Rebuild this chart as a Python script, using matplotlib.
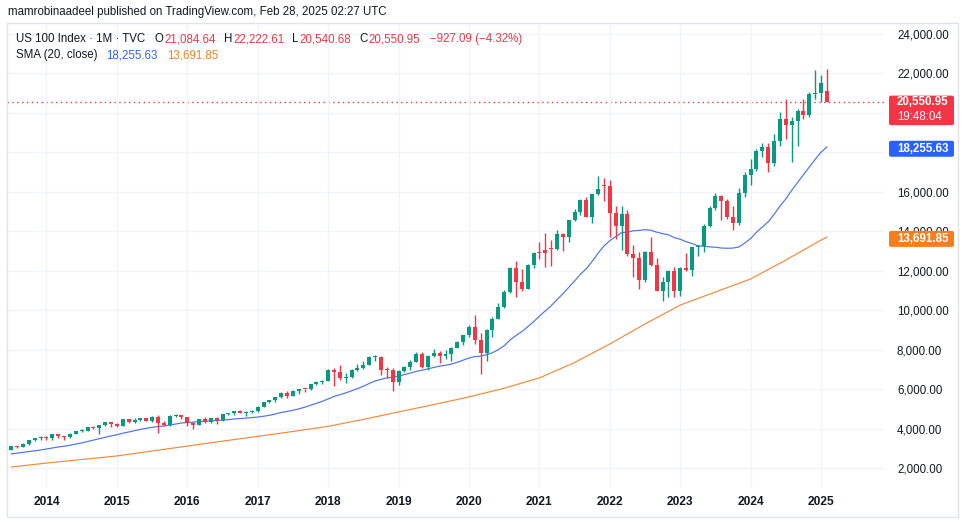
import numpy as np
import pandas as pd
import matplotlib
matplotlib.use("Agg")
import matplotlib.pyplot as plt
from matplotlib.patches import Rectangle, FancyBboxPatch
from matplotlib.transforms import IdentityTransform

# ---- data (monthly US 100 candles, Jul 2013 .. Feb 2025) ----
first_month = "2013-07"

opens = [
    2915, 3096, 3050, 3220, 3400, 3500,
    3592, 3533, 3710, 3596, 3580, 3736, 3850, 3881, 4082, 4050, 4158, 4335,
    4236, 4151, 4474, 4334, 4415, 4509, 4397, 4589, 4274, 4182, 4648, 4664,
    4593, 4280, 4201, 4483, 4341, 4523, 4418, 4730, 4771, 4875, 4801, 4811,
    4864, 5114, 5331, 5436, 5584, 5788, 5647, 5880, 5988, 5980, 6248, 6337,
    6397, 6950, 6870, 6581, 6605, 6968, 7040, 7232, 7610, 7627, 6968, 6950,
    6330, 6907, 7097, 7378, 7782, 7127, 7672, 7848, 7663, 7750, 8083, 8405,
    8733, 9150, 8462, 7813, 9000, 9556, 10157, 10906, 12111, 11418, 11053, 12268,
    12900, 13040, 13110, 13091, 13860, 13687, 14554, 14960, 15582, 14690, 15850, 16340,
    16300, 14930, 14238, 14838, 12855, 12643, 11504, 12948, 12272, 10971, 11405, 11951,
    10940, 12102, 12043, 13182, 13246, 14254, 15180, 15758, 15501, 14715, 14410, 15948,
    16826, 17137, 18044, 18255, 17441, 18537, 19683, 19363, 19575, 20061, 19890, 20930,
    21012, 21084.64,
]
highs = [
    3110, 3130, 3250, 3400, 3500, 3600,
    3630, 3720, 3740, 3620, 3750, 3860, 3990, 4090, 4120, 4180, 4340, 4350,
    4290, 4480, 4490, 4540, 4530, 4550, 4620, 4690, 4370, 4660, 4720, 4700,
    4600, 4310, 4500, 4580, 4530, 4600, 4740, 4810, 4900, 4920, 4900, 4960,
    5140, 5340, 5460, 5600, 5830, 5900, 5930, 6000, 6010, 6260, 6400, 6460,
    7020, 7050, 7190, 6800, 7000, 7280, 7440, 7650, 7700, 7690, 7100, 7080,
    6970, 7150, 7480, 7850, 7850, 7720, 8030, 7900, 7950, 8120, 8420, 8750,
    9260, 9740, 8850, 9030, 9640, 10340, 10990, 12190, 12470, 12100, 12340, 12960,
    13430, 13880, 13550, 14060, 13900, 14580, 15130, 15620, 15700, 15860, 16770, 16660,
    16580, 15260, 15270, 15070, 13300, 12950, 13010, 13720, 12650, 11680, 12040, 12170,
    12160, 12880, 13200, 13300, 14330, 15290, 15930, 15800, 15620, 15270, 16170, 16970,
    17670, 18140, 18470, 18460, 18910, 20030, 20690, 19750, 20200, 20690, 21030, 22133,
    21900, 22222.61,
]
lows = [
    2900, 3030, 3045, 3150, 3360, 3400,
    3420, 3440, 3530, 3410, 3520, 3700, 3830, 3850, 3990, 3700, 4140, 4100,
    4090, 4120, 4300, 4300, 4380, 4390, 4340, 3790, 4110, 4110, 4580, 4490,
    4110, 3950, 4180, 4300, 4270, 4220, 4400, 4700, 4690, 4760, 4620, 4790,
    4850, 5100, 5280, 5330, 5550, 5560, 5630, 5760, 5850, 5970, 6210, 6240,
    6390, 6170, 6470, 6320, 6560, 6930, 7000, 7200, 7400, 6710, 6540, 5900,
    6190, 6880, 6980, 7370, 7080, 6980, 7620, 7320, 7530, 7430, 8080, 8240,
    8650, 8300, 6770, 7420, 8640, 9520, 10090, 10880, 10680, 10980, 11060, 12140,
    12600, 12200, 12210, 13050, 12980, 13440, 14490, 14820, 14690, 14410, 15800, 15540,
    13720, 13600, 13020, 12720, 11690, 11040, 11400, 12250, 10960, 10440, 10670, 10670,
    10700, 11970, 11700, 12720, 12960, 14220, 15040, 14560, 14600, 14060, 14290, 15700,
    16320, 17040, 17760, 16970, 17280, 18280, 18640, 17480, 18300, 19670, 19750, 20690,
    20540, 20540.68,
]
closes = [
    3096, 3048, 3218, 3398, 3500, 3592,
    3533, 3708, 3596, 3580, 3736, 3850, 3881, 4082, 4050, 4158, 4335, 4236,
    4151, 4474, 4334, 4415, 4509, 4397, 4589, 4274, 4182, 4648, 4664, 4593,
    4280, 4201, 4483, 4341, 4523, 4418, 4730, 4771, 4875, 4801, 4811, 4864,
    5114, 5331, 5436, 5584, 5788, 5647, 5880, 5988, 5980, 6248, 6337, 6397,
    6950, 6870, 6581, 6605, 6968, 7040, 7232, 7610, 7627, 6968, 6950, 6330,
    6907, 7097, 7378, 7782, 7127, 7672, 7848, 7663, 7750, 8083, 8405, 8733,
    9150, 8462, 7813, 9000, 9556, 10157, 10906, 12111, 11418, 11053, 12268, 12888,
    12870, 12909, 13091, 13860, 13687, 14554, 14960, 15582, 14690, 15850, 16135, 16300,
    14930, 14238, 14838, 12855, 12643, 11504, 12948, 12272, 10971, 11405, 11951, 10940,
    12102, 12043, 13182, 13246, 14254, 15180, 15758, 15501, 14715, 14410, 15948, 16826,
    17137, 18044, 18255, 17441, 18537, 19683, 19363, 19575, 20061, 19890, 20930, 21012,
    21478.04, 20550.95,
]
# closes before the first candle, needed for the 20-month SMA
warmup_closes = [2278, 2425, 2615, 2755, 2731, 2536, 2616, 2636, 2772, 2799,
                 2659, 2677, 2661, 2731, 2739, 2819, 2828, 2987, 2910]

# slow (orange) moving average
slow_months = ["2013-07", "2014-01", "2014-07", "2015-01", "2015-07", "2016-01",
               "2016-07", "2017-01", "2017-07", "2018-01", "2018-07", "2019-01",
               "2019-07", "2020-01", "2020-07", "2021-01", "2021-07", "2022-01",
               "2022-07", "2023-01", "2023-07", "2024-01", "2024-07", "2025-01",
               "2025-02"]
slow_values = [2050, 2250, 2430, 2610, 2860, 3110, 3360, 3600, 3850, 4110,
               4460, 4840, 5210, 5600, 6040, 6560, 7340, 8280, 9290, 10250,
               10910, 11570, 12530, 13540, 13691.85]

sma_last = [18255.63, 13691.85]
years = [str(y) for y in range(2014, 2026)]
price_ticks = list(range(2000, 24001, 2000))

# ---- style ----
W, H, DPI = 965, 523, 100
UP, DOWN = "#089981", "#F23645"
BLUE, ORANGE = "#2962FF", "#F57F20"
BLUE_LINE, ORANGE_LINE = "#4C72E6", "#F48A38"
TXT = "#131722"
GRID = "#F0F3FA"
FS = 8.3

plt.rcParams["font.family"] = ["Liberation Sans", "DejaVu Sans"]

months = pd.period_range(first_month, periods=len(closes), freq="M")
x = np.arange(len(closes))
o, h, l, c = map(np.array, (opens, highs, lows, closes))

fig = plt.figure(figsize=(W / DPI, H / DPI), dpi=DPI)
# plot area in pixels: x 7..885, y 23..487 (from top)
ax = fig.add_axes([7 / W, (H - 487) / H, (885 - 7) / W, (487 - 23) / H])
ax.set_xlim(-0.73, 148.9)
ax.set_ylim(1038, 24532)
px = (24532 - 1038) / 464.0  # price units per pixel

# moving averages
sma20 = pd.Series(warmup_closes + closes).rolling(20).mean().to_numpy()[len(warmup_closes):]
ax.plot(x, sma20, color=BLUE_LINE, lw=0.85, zorder=2)
slow_x = [(pd.Period(m, "M") - months[0]).n for m in slow_months]
ax.plot(slow_x, slow_values, color=ORANGE_LINE, lw=0.85, zorder=2)

# candles
cols = np.where(c >= o, UP, DOWN)
ax.vlines(x, l, h, colors=cols, lw=1, zorder=3)
body = np.maximum(np.abs(c - o), px)
ax.bar(x, body, bottom=np.minimum(o, c), width=0.68, color=cols, lw=0, zorder=4)

# last price dotted line
ax.axhline(c[-1], color=DOWN, lw=1, ls=(0, (1, 2.5)), zorder=1)

# price labels on the right: (price, colour, text, second line, top offset, bottom offset)
boxes = [
    (c[-1], DOWN, f"{c[-1]:,.2f}", "19:48:04", 6, -23.5),
    (sma_last[0], BLUE, f"{sma_last[0]:,.2f}", None, 6.2, -9.8),
    (sma_last[1], ORANGE, f"{sma_last[1]:,.2f}", None, 6.2, -9.8),
]


def hidden_by_box(v):
    y = ax.transData.transform((0, v))[1]
    for p, _, _, _, up_, dn_ in boxes:
        yc = ax.transData.transform((0, p))[1]
        if yc + dn_ <= y - 4.5 and y + 4.5 <= yc + up_:
            return True
    return False


# axes / grid
ax.set_yticks(price_ticks)
ax.set_yticklabels(["" if hidden_by_box(v) else f"{v:,.2f}" for v in price_ticks])
ax.yaxis.tick_right()
year_x = [(pd.Period(y + "-01", "M") - months[0]).n for y in years]
ax.set_xticks(year_x)
ax.set_xticklabels(years, fontweight="bold", fontsize=8.6)
ax.tick_params(axis="y", length=0, pad=8.6, labelsize=FS, labelcolor=TXT)
ax.tick_params(axis="x", length=0, pad=6.5, labelcolor=TXT)
ax.grid(True, color=GRID, lw=1, zorder=0)
for s in ax.spines.values():
    s.set_visible(False)

# frame round the chart
fig.add_artist(Rectangle((7 / W, (H - 517) / H), (958 - 7) / W, (517 - 23) / H,
                         transform=fig.transFigure, fill=False,
                         edgecolor="#E0E3EB", lw=1))

renderer = fig.canvas.get_renderer()


def text_run(x0, y_top, pieces, size=FS):
    xp = x0
    for s, col, gap in pieces:
        t = fig.text(xp / W, 1 - y_top / H, s, color=col, fontsize=size,
                     ha="left", va="center")
        xp += t.get_window_extent(renderer).width + gap


chg = c[-1] - c[-2]
text_run(8.3, 12.3, [("mamrobinaadeel published on TradingView.com, Feb 28, 2025 02:27 UTC", TXT, 0)])
text_run(16, 39.3, [
    ("US 100 Index \u00b7 1M \u00b7 TVC", TXT, 9),
    ("O", TXT, 1), (f"{o[-1]:,.2f}", DOWN, 8),
    ("H", TXT, 1), (f"{h[-1]:,.2f}", DOWN, 8),
    ("L", TXT, 1), (f"{l[-1]:,.2f}", DOWN, 8),
    ("C", TXT, 1), (f"{c[-1]:,.2f}", DOWN, 10),
    (f"\u2212{abs(chg):,.2f} (\u2212{abs(chg) / c[-2] * 100:.2f}%)", DOWN, 0),
])
text_run(16, 55, [
    ("SMA (20, close)", TXT, 9),
    (f"{sma_last[0]:,.2f}", BLUE, 9),
    (f"{sma_last[1]:,.2f}", ORANGE, 0),
])

for p, col, label, extra, up_, dn_ in boxes:
    yc = ax.transData.transform((0, p))[1]
    fig.add_artist(FancyBboxPatch((889, yc + dn_), 65, up_ - dn_,
                                  boxstyle="round,pad=0,rounding_size=2",
                                  transform=IdentityTransform(),
                                  fc=col, ec="none", zorder=5))
    ty = yc if extra else yc + (up_ + dn_) / 2
    fig.text(897 / W, ty / H, label, color="white", fontsize=FS,
             fontweight="bold", ha="left", va="center", zorder=6)
    if extra:
        fig.text(897 / W, (yc - 15) / H, extra, color="white", fontsize=FS,
                 ha="left", va="center", zorder=6)

fig.savefig("out.png", dpi=DPI)
